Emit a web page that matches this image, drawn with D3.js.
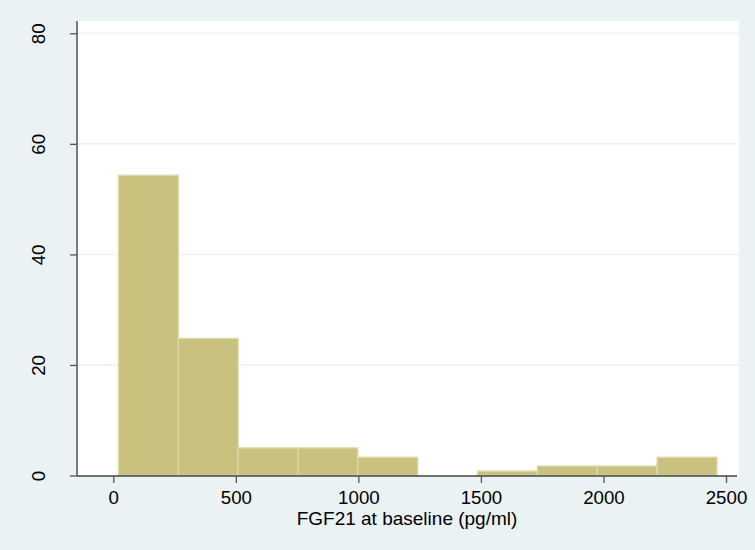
<!DOCTYPE html>
<html>
<head>
<meta charset="utf-8">
<script src="https://cdn.jsdelivr.net/npm/d3@7"></script>
<style>
  body { margin: 0; background: #eaf2f3; }
  svg { display: block; font-family: "Liberation Sans", Arial, sans-serif; }
</style>
</head>
<body>
<svg id="chart"></svg>
<script>
// Histogram data (percent per bin)
const binStart = 21;
const binWidth = 244.2;
const percents = [54.3, 24.8, 5.0, 5.0, 3.3, 0, 0.8, 1.7, 1.7, 3.3];
const xTicks = [0, 500, 1000, 1500, 2000, 2500];
const yTicks = [0, 20, 40, 60, 80];
const xTitle = "FGF21 at baseline (pg/ml)";

const svgWidth = 755;
const svgHeight = 550;
const plot = { left: 77, right: 739, top: 21, bottom: 476 };

const bins = percents.map((p, i) => ({
    x0: binStart + i * binWidth,
    x1: binStart + (i + 1) * binWidth,
    pct: p
}));

const svg = d3.select("#chart")
    .attr("width", svgWidth)
    .attr("height", svgHeight);

// outer background
svg.append("rect")
    .attr("width", svgWidth).attr("height", svgHeight)
    .attr("fill", "#eaf2f3");

// plot region
svg.append("rect")
    .attr("x", plot.left).attr("y", plot.top)
    .attr("width", plot.right - plot.left)
    .attr("height", plot.bottom - plot.top)
    .attr("fill", "#ffffff");

const xScale = d3.scaleLinear()
    .domain([0, 2500])
    .range([113.3, 726]);

const yScale = d3.scaleLinear()
    .domain([0, 80])
    .range([475.5, 33.3]);

// gridlines
svg.append("g")
    .selectAll("line")
    .data(yTicks.filter(d => d > 0))
    .enter()
    .append("line")
    .attr("x1", plot.left).attr("x2", plot.right)
    .attr("y1", d => yScale(d)).attr("y2", d => yScale(d))
    .attr("stroke", "#eaf2f3")
    .attr("stroke-width", 1.5);

// bars
svg.append("g")
    .selectAll("rect")
    .data(bins.filter(d => d.pct > 0))
    .enter()
    .append("rect")
    .attr("x", d => xScale(d.x0))
    .attr("y", d => yScale(d.pct))
    .attr("width", d => xScale(d.x1) - xScale(d.x0))
    .attr("height", d => yScale(0) - yScale(d.pct))
    .attr("fill", "#c9c27f")
    .attr("stroke", "#dcd8a8")
    .attr("stroke-width", 1.3);

// y axis
const yAxis = svg.append("g")
    .attr("transform", `translate(${plot.left},0)`)
    .call(d3.axisLeft(yScale).tickValues(yTicks).tickSize(7).tickFormat(d3.format("d")));
yAxis.select(".domain")
    .attr("d", `M0,${plot.top}V${plot.bottom}`)
    .attr("stroke", "#000");
yAxis.selectAll(".tick line").attr("stroke", "#555").attr("stroke-width", 1.3);
yAxis.selectAll(".tick text")
    .attr("font-size", 18.7)
    .attr("fill", "#000")
    .attr("text-anchor", "middle")
    .attr("x", null)
    .attr("dy", null)
    .attr("transform", "translate(-39,0) rotate(-90)")
    .attr("y", 6.5);

// x axis
const xAxis = svg.append("g")
    .attr("transform", `translate(0,${plot.bottom})`)
    .call(d3.axisBottom(xScale).tickValues(xTicks).tickSize(7).tickPadding(8).tickFormat(d3.format("d")));
xAxis.select(".domain")
    .attr("d", `M${plot.left},0H${plot.right - 2}`)
    .attr("stroke", "#444")
    .attr("stroke-width", 1.3);
xAxis.selectAll(".tick line").attr("stroke", "#555").attr("stroke-width", 1.3);
xAxis.selectAll(".tick text")
    .attr("font-size", 18.7)
    .attr("fill", "#000");

// x title
svg.append("text")
    .attr("x", 407)
    .attr("y", 525)
    .attr("text-anchor", "middle")
    .attr("font-size", 19)
    .attr("fill", "#000")
    .text(xTitle);
</script>
</body>
</html>
